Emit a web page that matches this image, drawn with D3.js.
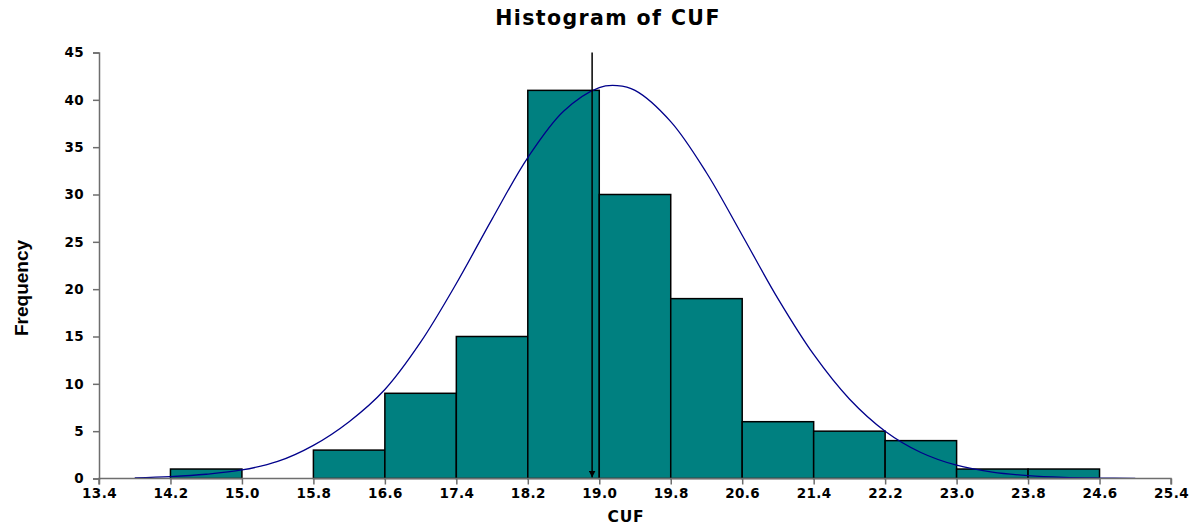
<!DOCTYPE html>
<html>
<head>
<meta charset="utf-8">
<script src="https://cdn.jsdelivr.net/npm/d3@7"></script>
<style>
  body { margin: 0; background: #fff; }
  text { font-family: "DejaVu Sans", Verdana, sans-serif; font-weight: bold; fill: #000; }
</style>
</head>
<body>
<div id="chart"></div>
<script>
// histogram bins (lower edge, width 0.8) and counts
const binStarts = [14.2, 15.0, 15.8, 16.6, 17.4, 18.2, 19.0, 19.8, 20.6, 21.4, 22.2, 23.0, 23.8];
const counts = [1, 0, 3, 9, 15, 41, 30, 19, 6, 5, 4, 1, 1];
const binWidth = 0.8;

// fitted curve
const curveX = [13.8, 14.2, 14.6, 15.0, 15.4, 15.8, 16.2, 16.6, 17.0, 17.4, 17.8, 18.2, 18.6, 19.0, 19.2,
                19.4, 19.8, 20.2, 20.6, 21.0, 21.4, 21.8, 22.2, 22.6, 23.0, 23.4, 23.8, 24.2, 24.6, 25.0];
const curveY = [0.07, 0.2, 0.45, 0.9, 1.8, 3.5, 6.0, 9.4, 14.4, 20.6, 27.4, 33.9, 38.8, 41.3, 41.5,
                41.0, 37.7, 32.3, 25.7, 19.0, 13.1, 8.4, 5.0, 2.75, 1.4, 0.67, 0.3, 0.12, 0.05, 0.02];

const meanMark = 18.92;
const xTicks = [13.4, 14.2, 15.0, 15.8, 16.6, 17.4, 18.2, 19.0, 19.8, 20.6, 21.4, 22.2, 23.0, 23.8, 24.6, 25.4];
const yTicks = [0, 5, 10, 15, 20, 25, 30, 35, 40, 45];

const width = 1204, height = 527;
const x = d3.scaleLinear().domain([13.4, 25.4]).range([99, 1171]);
const y = d3.scaleLinear().domain([0, 45]).range([478.5, 52.5]);

const svg = d3.select("#chart").append("svg")
  .attr("width", width)
  .attr("height", height);

svg.append("defs").append("marker")
  .attr("id", "arrow")
  .attr("viewBox", "0 0 10 10")
  .attr("refX", 10).attr("refY", 5)
  .attr("markerWidth", 7).attr("markerHeight", 7)
  .attr("markerUnits", "userSpaceOnUse")
  .attr("orient", "auto")
  .append("path")
  .attr("d", "M0,0L10,5L0,10Z")
  .attr("fill", "#000");

// bars
svg.append("g")
  .selectAll("rect")
  .data(binStarts.map((s, i) => ({ s, c: counts[i] })).filter(d => d.c > 0))
  .join("rect")
  .attr("x", d => x(d.s))
  .attr("y", d => y(d.c))
  .attr("width", d => x(d.s + binWidth) - x(d.s))
  .attr("height", d => y(0) - y(d.c))
  .attr("fill", "#008080")
  .attr("stroke", "#000")
  .attr("stroke-width", 1.5);

// normal curve
const line = d3.line()
  .x(d => x(d[0]))
  .y(d => y(d[1]))
  .curve(d3.curveCatmullRom);

svg.append("path")
  .datum(curveX.map((v, i) => [v, curveY[i]]))
  .attr("d", line)
  .attr("fill", "none")
  .attr("stroke", "#00008b")
  .attr("stroke-width", 1.3);

// mean arrow
svg.append("line")
  .attr("x1", x(meanMark)).attr("x2", x(meanMark))
  .attr("y1", y(45)).attr("y2", y(0) - 1)
  .attr("stroke", "#000")
  .attr("stroke-width", 1.5)
  .attr("marker-end", "url(#arrow)");

// axes
const xAxis = svg.append("g")
  .attr("transform", `translate(0,${y(0)})`)
  .call(d3.axisBottom(x).tickValues(xTicks).tickFormat(d3.format(".1f")).tickSize(6).tickPadding(4));

const yAxis = svg.append("g")
  .attr("transform", `translate(${x(13.4)},0)`)
  .call(d3.axisLeft(y).tickValues(yTicks).tickSize(6).tickPadding(9));

[xAxis, yAxis].forEach(a => {
  a.select(".domain").attr("stroke", "#6e6e6e").attr("stroke-width", 1.5);
  a.selectAll(".tick line").attr("stroke", "#6e6e6e").attr("stroke-width", 1.5);
  a.selectAll(".tick text").attr("font-size", 13.5).attr("font-weight", "bold")
    .attr("font-family", "'DejaVu Sans', Verdana, sans-serif").attr("fill", "#000")
    .attr("letter-spacing", 0.4);
});
xAxis.select(".domain").attr("d", `M${x(13.4)},6V0H${x(25.4)}V6`);

// titles
svg.append("text")
  .attr("x", 608).attr("y", 25)
  .attr("text-anchor", "middle")
  .attr("font-size", 20.5)
  .attr("letter-spacing", 1.4)
  .text("Histogram of CUF");

svg.append("text")
  .attr("x", 626).attr("y", 522)
  .attr("text-anchor", "middle")
  .attr("font-size", 15.5)
  .attr("letter-spacing", 0.8)
  .text("CUF");

svg.append("text")
  .attr("transform", "translate(28,288) rotate(-90)")
  .attr("text-anchor", "middle")
  .attr("font-size", 19)
  .style("font-family", "'Liberation Sans Narrow', 'Arial Narrow', Arial, sans-serif")
  .text("Frequency");
</script>
</body>
</html>
